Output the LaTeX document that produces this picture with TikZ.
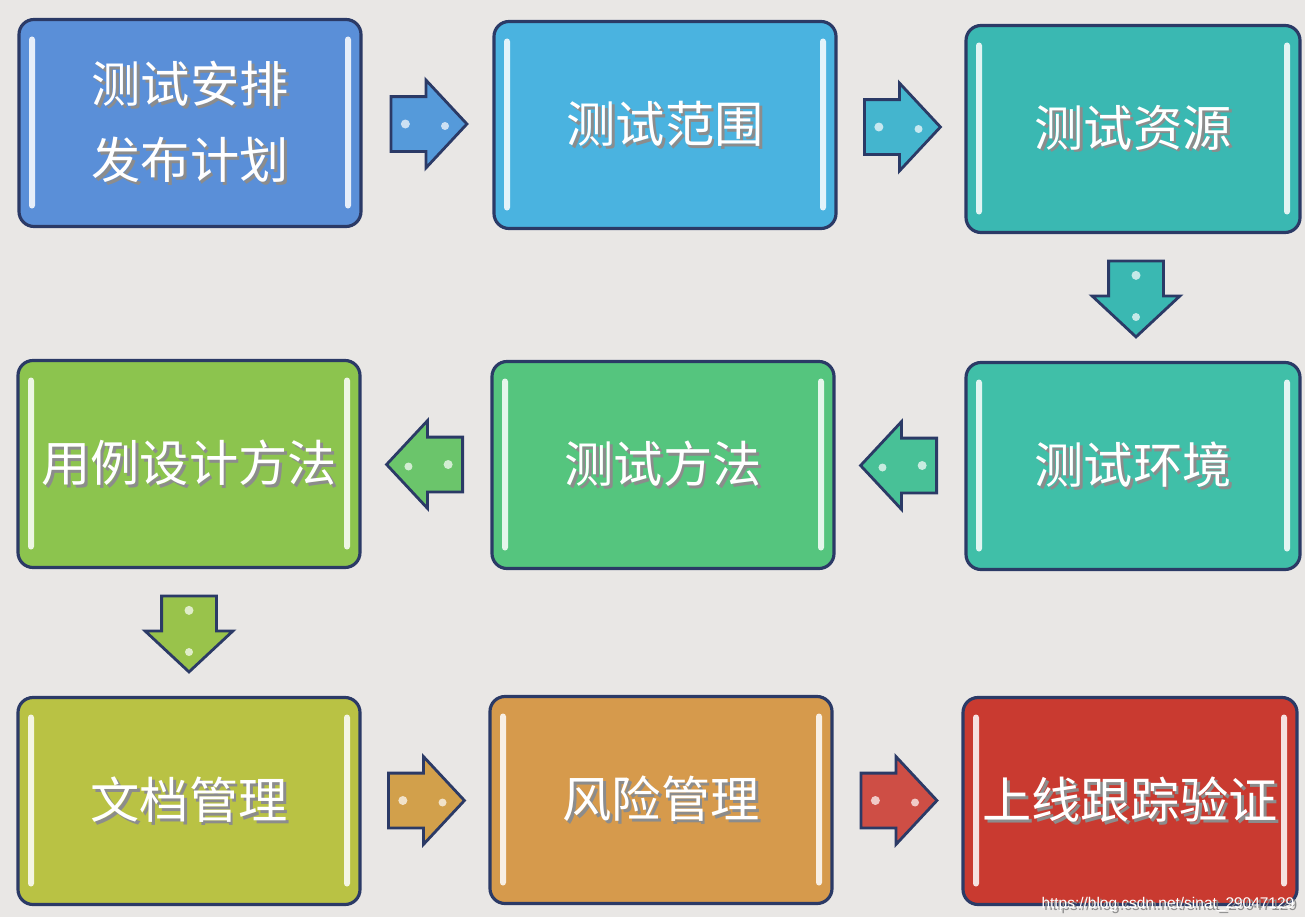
\documentclass[tikz,border=0pt]{standalone}
\usepackage{fontspec}
\usepackage{xcolor}
\usepackage{tikz}
\usetikzlibrary{shapes.arrows,calc,positioning}
\newfontfamily\cjk{Noto Sans CJK SC}
\newfontfamily\webfont{Liberation Sans}
\definecolor{paper}{HTML}{E9E7E5}
\definecolor{rim}{HTML}{2B3A66}
\definecolor{cPlan}{HTML}{5A8FD8}
\definecolor{cScope}{HTML}{4AB3E0}
\definecolor{cRes}{HTML}{3AB8B2}
\definecolor{cEnv}{HTML}{40BFA8}
\definecolor{cMeth}{HTML}{55C57E}
\definecolor{cCase}{HTML}{8CC44E}
\definecolor{cDoc}{HTML}{B9C244}
\definecolor{cRisk}{HTML}{D69A4C}
\definecolor{cLive}{HTML}{C93A30}
\newcommand{\shtxt}[1]{\leavevmode\rlap{\kern0.8pt\raisebox{-0.8pt}{\textcolor{black!45}{#1}}}#1}

\begin{document}
\begin{tikzpicture}[
  stage/.style={draw=rim, line width=0.9pt, rounded corners=0.15cm,
    minimum width=3.42cm, minimum height=2.07cm, text=white, align=center,
    font=\cjk\fontsize{14}{21.6}\selectfont,
    path picture={
      \fill[white, opacity=.85, rounded corners=0.03cm]
        ([xshift=.10cm,yshift=-.17cm]path picture bounding box.north west)
        rectangle ([xshift=.16cm,yshift=.18cm]path picture bounding box.south west);
      \fill[white, opacity=.85, rounded corners=0.03cm]
        ([xshift=-.10cm,yshift=-.17cm]path picture bounding box.north east)
        rectangle ([xshift=-.16cm,yshift=.18cm]path picture bounding box.south east);
    }},
  flow/.style={single arrow, draw=rim, line width=0.8pt, inner xsep=0pt,
    inner ysep=0.26cm, minimum height=0.76cm, anchor=tail,
    single arrow head extend=0.165cm, single arrow tip angle=94}
]
  \fill[paper] (0,0) rectangle (13.05,9.17);
  \useasboundingbox (0,0) rectangle (13.05,9.17);

  \node[stage, fill=cPlan]  (plan)  at (1.90,7.94)  {\shtxt{测试安排}\\\shtxt{发布计划}};
  \node[stage, fill=cScope] (scope) at (6.65,7.92)  {\shtxt{测试范围}};
  \node[stage, fill=cRes, minimum width=3.34cm] (res) at (11.33,7.88) {\shtxt{测试资源}};
  \node[stage, fill=cEnv, minimum width=3.34cm] (env) at (11.33,4.51) {\shtxt{测试环境}};
  \node[stage, fill=cMeth]  (meth)  at (6.63,4.52)  {\shtxt{测试方法}};
  \node[stage, fill=cCase]  (case)  at (1.89,4.53)  {\shtxt{用例设计方法}};
  \node[stage, fill=cDoc]   (doc)   at (1.89,1.16)  {\shtxt{文档管理}};
  \node[stage, fill=cRisk]  (risk)  at (6.61,1.17)  {\shtxt{风险管理}};
  \node[stage, fill=cLive, minimum width=3.34cm] (live) at (11.30,1.16) {\shtxt{上线跟踪验证}};

  \node[flow, fill=cPlan!70!cScope] (planscope) at ($(plan.east)!.5!(scope.west)+(-0.38,0)$) {};
  \node[flow, fill=cScope!60!cRes]  (scoperes)  at ($(scope.east)!.5!(res.west)+(-0.38,0)$) {};
  \node[flow, fill=cRes, rotate=-90] (resenv)   at ($(res.south)!.5!(env.north)+(0.03,0.38)$) {};
  \node[flow, fill=cEnv!60!cMeth, rotate=180] (envmeth) at ($(env.west)!.5!(meth.east)+(0.38,0)$) {};
  \node[flow, fill=cMeth!60!cCase, rotate=180] (methcase) at ($(meth.west)!.5!(case.east)+(0.38,0)$) {};
  \node[flow, fill=cCase!70!cDoc, rotate=-90] (casedoc) at ($(case.south)!.5!(doc.north)+(0,0.38)$) {};
  \node[flow, fill=cRisk!85!cDoc]   (docrisk)   at ($(doc.east)!.5!(risk.west)+(-0.38,0)$) {};
  \node[flow, fill=cLive!90!white]  (risklive)  at ($(risk.east)!.5!(live.west)+(-0.38,0)$) {};

  \foreach \a in {planscope,scoperes,resenv,envmeth,methcase,casedoc,docrisk,risklive} {
    \fill[white, opacity=.7] ($(\a.tail)!0.2!(\a.tip)$) circle (0.045cm);
    \fill[white, opacity=.7] ($(\a.tail)!0.7!(\a.tip)+(0,-0.02)$) circle (0.04cm);
  }

  \node[font=\webfont\fontsize{4.4}{5}\selectfont, text=white, anchor=base east, inner sep=0pt]
    (credit) at (12.95,0.09) {\shtxt{https://blog.csdn.net/sinat\_29047129}};
\end{tikzpicture}
\end{document}
